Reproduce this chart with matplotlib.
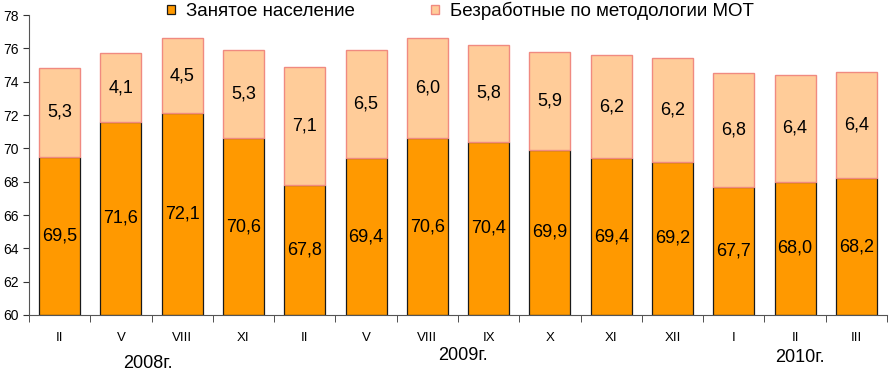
import matplotlib.pyplot as plt
import numpy as np

plt.rcParams['font.family'] = ['Liberation Sans', 'DejaVu Sans']

months = ["II", "V", "VIII", "XI", "II", "V", "VIII", "IX", "X", "XI", "XII", "I", "II", "III"]
employed = [69.5, 71.6, 72.1, 70.6, 67.8, 69.4, 70.6, 70.4, 69.9, 69.4, 69.2, 67.7, 68.0, 68.2]
unemployed = [5.3, 4.1, 4.5, 5.3, 7.1, 6.5, 6.0, 5.8, 5.9, 6.2, 6.2, 6.8, 6.4, 6.4]
years = ["2008г.", "2009г.", "2010г."]
base = 60

fig = plt.figure(figsize=(8.89, 3.72), dpi=100)
ax = fig.add_axes([29 / 889, 1 - 315 / 372, 858 / 889, 300 / 372])

x = np.arange(len(months))
emp = np.array(employed)
une = np.array(unemployed)

ax.bar(x, emp - base, 0.67, bottom=base, color="#FF9900", edgecolor="#1a1a1a",
       linewidth=0.9, label="Занятое население")
ax.bar(x, une, 0.67, bottom=emp, color="#FFCC99", edgecolor="#F08A80",
       linewidth=1.0, label="Безработные по методологии МОТ")

for i in range(len(months)):
    ax.text(x[i], (base + emp[i]) / 2, f"{employed[i]:.1f}".replace(".", ","),
            ha="center", va="center", fontsize=13)
    ax.text(x[i], emp[i] + une[i] / 2, f"{unemployed[i]:.1f}".replace(".", ","),
            ha="center", va="center", fontsize=13)

ax.set_xlim(-0.5, len(months) - 0.5)
ax.set_ylim(60, 78)
ax.set_yticks(np.arange(60, 79, 2))
ax.tick_params(axis="y", labelsize=10, length=4, direction="out", color="#333333")
ax.set_xticks(x)
ax.set_xticklabels(months, fontsize=9.5)
ax.tick_params(axis="x", length=0, pad=12)
ax.set_xticks(np.arange(-0.5, len(months)), minor=True)
ax.tick_params(axis="x", which="minor", length=5, direction="out", color="#333333")

for s in ["top", "right"]:
    ax.spines[s].set_visible(False)
ax.spines["left"].set_color("#555555")
ax.spines["bottom"].set_color("#555555")

fig.text(148 / 889, 1 - 364 / 372, years[0], ha="center", va="center", fontsize=13)
fig.text(463 / 889, 1 - 356 / 372, years[1], ha="center", va="center", fontsize=13)
fig.text(800 / 889, 1 - 358 / 372, years[2], ha="center", va="center", fontsize=13)

fig.legend(loc="center left", bbox_to_anchor=(158 / 889, 1 - 11 / 372), ncol=2,
           frameon=False, fontsize=13.5, handlelength=0.42, handleheight=0.42,
           handletextpad=0.55, columnspacing=4.1, borderpad=0)

fig.savefig("out.png", dpi=100)
